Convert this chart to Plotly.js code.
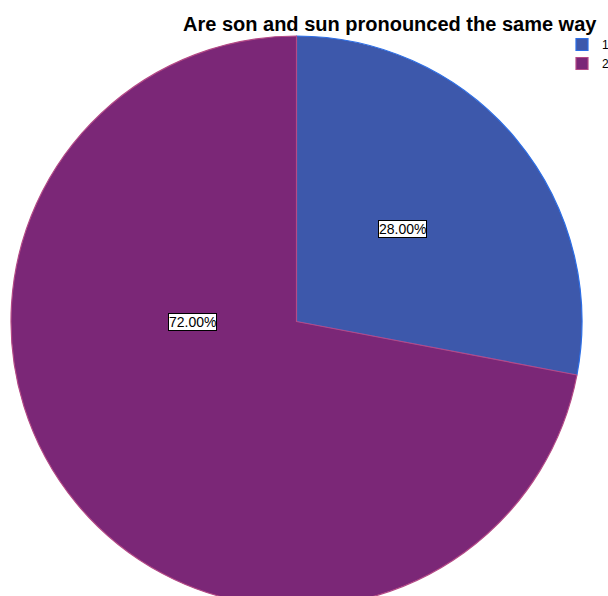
<!DOCTYPE html>
<html>
<head>
<meta charset="utf-8">
<script src="https://cdn.plot.ly/plotly-3.0.1.min.js"></script>
<style>
  html, body { margin: 0; padding: 0; overflow: hidden; background: #fff; }
  #chart { width: 608px; height: 700px; }
</style>
</head>
<body>
<div id="chart"></div>
<script>
const categories = ['1', '2'];
const values = [28, 72];
const sliceColors = ['#3d58ab', '#7b2777'];
const edgeColors = ['#2c6ee6', '#b44a86'];
const titleText = 'Are son and sun pronounced the same way';

const W = 608, H = 700;
const total = values.reduce((a, b) => a + b, 0);
const pct = values.map(v => (100 * v / total).toFixed(2) + '%');

// label anchor positions (pixels) for the boxed percentage labels
const labelPos = [[402, 229], [192, 322]];

const trace = {
  type: 'pie',
  labels: categories,
  values: values,
  sort: false,
  direction: 'clockwise',
  rotation: 0,
  textinfo: 'none',
  hoverinfo: 'none',
  marker: { colors: sliceColors, line: { color: edgeColors, width: 1.2 } },
  domain: { x: [11 / W, 582 / W], y: [1 - 607 / H, 1 - 36 / H] }
};

const annotations = pct.map((t, i) => ({
  text: t,
  xref: 'paper', yref: 'paper',
  x: labelPos[i][0] / W, y: 1 - labelPos[i][1] / H,
  xanchor: 'center', yanchor: 'middle',
  showarrow: false,
  bgcolor: '#ffffff',
  bordercolor: '#000000',
  borderwidth: 1,
  borderpad: 0,
  font: { family: 'Liberation Sans, Arial, sans-serif', size: 14, color: '#000' }
}));

const layout = {
  width: W, height: H,
  margin: { l: 0, r: 0, t: 0, b: 0, autoexpand: false },
  paper_bgcolor: '#ffffff',
  showlegend: true,
  title: {
    text: titleText,
    x: 183 / W, xanchor: 'left', xref: 'container',
    y: 1 - 24 / H, yanchor: 'middle', yref: 'container',
    font: { family: 'Liberation Sans, Arial, sans-serif', size: 20, color: '#000', weight: 'bold' }
  },
  legend: {
    x: 562 / W, y: 1 - 30 / H, xanchor: 'left', yanchor: 'top',
    font: { family: 'Liberation Sans, Arial, sans-serif', size: 12, color: '#000' },
    bgcolor: 'rgba(0,0,0,0)', tracegroupgap: 0, itemwidth: 30
  },
  annotations: annotations
};

Plotly.newPlot('chart', [trace], layout, { displayModeBar: false, staticPlot: true });
</script>
</body>
</html>
